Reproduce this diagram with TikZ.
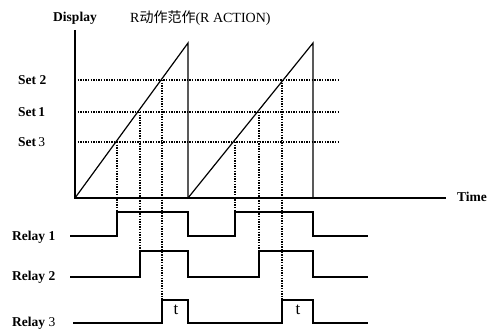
\documentclass[tikz,border=0pt]{standalone}
\usepackage{fontspec}
\setmainfont{Liberation Serif}
\newfontfamily\cjk{Noto Sans CJK SC}
\begin{document}
\begin{tikzpicture}[x=1pt,y=-1pt,
  axis/.style={line width=1.6pt},
  ramp/.style={line width=1.2pt},
  sig/.style={line width=1.2pt},
  dots/.style={line width=1.4pt, dash pattern=on 1.4pt off 1.2pt},
  lbl/.style={font=\bfseries\fontsize{13.5}{15}\selectfont, inner sep=0pt},
  ttl/.style={font=\fontsize{14}{16}\selectfont, inner sep=0pt},
  tlbl/.style={font=\fontsize{17}{19}\selectfont, inner sep=0pt}]
\useasboundingbox (0,0) rectangle (488,329);
% labels
\node[lbl] (display) at (75,18) {Display};
\node[ttl, anchor=west] (title) at (130,18) {R{\cjk 动作范作}(R ACTION)};
\node[lbl, anchor=west] (set2) at (18,80) {Set 2};
\node[lbl, anchor=west] (set1) at (18,112) {Set\,1};
\node[lbl, anchor=west] (set3) at (18,142) {Set\,{\mdseries 3}};
\node[lbl, anchor=west] (time) at (457,197) {Time};
\node[lbl, anchor=west] (r1) at (12,237) {Relay 1};
\node[lbl, anchor=west] (r2) at (12,277) {Relay 2};
\node[lbl, anchor=west] (r3) at (12,323) {Relay {\mdseries 3}};
% dashed set levels
\draw[dots] (75,80) -- (338,80);
\draw[dots] (75,112) -- (338,112);
\draw[dots] (75,142) -- (338,142);
% vertical dotted drops
\draw[dots] (117,142) -- (117,212);
\draw[dots] (140,112) -- (140,251);
\draw[dots] (162,80) -- (162,300);
\draw[dots] (235,142) -- (235,212);
\draw[dots] (259,112) -- (259,251);
\draw[dots] (282,80) -- (282,300);
% ramps
\draw[ramp] (75,198) -- (188,43) -- (188,198);
\draw[ramp] (188,198) -- (313,43) -- (313,198);
% axes
\draw[axis] (75,30) -- (75,198) -- (446,198);
% relays
\draw[sig] (70,236) -- (117,236) -- (117,212) -- (188,212) -- (188,236) -- (235,236) -- (235,212) -- (313,212) -- (313,236) -- (368,236);
\draw[sig] (70,277) -- (140,277) -- (140,251) -- (188,251) -- (188,277) -- (259,277) -- (259,251) -- (313,251) -- (313,277) -- (368,277);
\draw[sig] (73,323) -- (162,323) -- (162,300) -- (188,300) -- (188,323) -- (282,323) -- (282,300) -- (313,300) -- (313,323) -- (368,323);
\node[tlbl] (t1) at (176,310) {t};
\node[tlbl] (t2) at (298,310) {t};
\end{tikzpicture}
\end{document}
